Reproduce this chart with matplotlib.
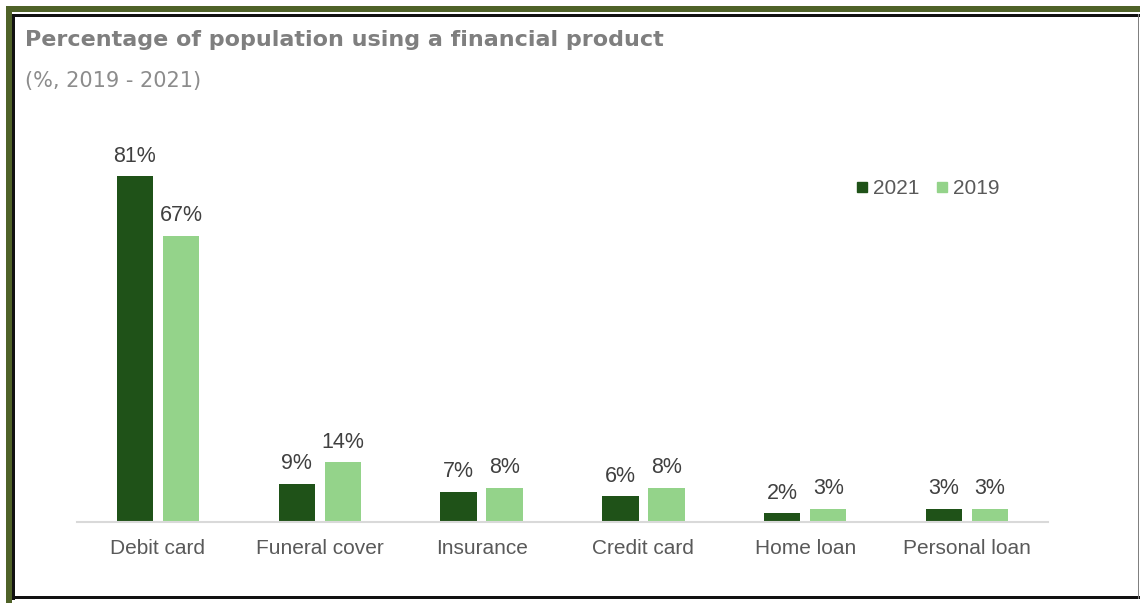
import matplotlib.pyplot as plt
from matplotlib.patches import Rectangle
from matplotlib.lines import Line2D

categories = ["Debit card", "Funeral cover", "Insurance", "Credit card", "Home loan", "Personal loan"]
vals_2021 = [81, 9, 7, 6, 2, 3]
vals_2019 = [67, 14, 8, 8, 3, 3]

dark = "#1f5218"
light = "#94d38a"

W, H = 1140, 603
fig = plt.figure(figsize=(W / 100, H / 100), dpi=100)
fig.patch.set_facecolor("white")

def px(x0, y0, w, h, color):
    # rectangle in pixel coordinates measured from the top-left corner
    fig.add_artist(Rectangle((x0 / W, 1 - (y0 + h) / H), w / W, h / H,
                             transform=fig.transFigure, color=color, lw=0))

# frame round the picture
px(6, 6, W - 6, 6, "#4f6228")
px(6, 6, 6, H - 6, "#4f6228")
px(12, 14, W - 12, 3, "#111111")
px(12, 14, 2.5, 586, "#111111")
px(12, 596, W - 12, 3, "#111111")
px(1137.5, 14, 1.5, 585, "#808080")

ax = fig.add_axes([77 / W, (H - 522) / H, 971 / W, 382 / H])
x = list(range(len(categories)))
off = 0.142
bw = 0.225
b1 = ax.bar([i - off for i in x], vals_2021, bw, color=dark, label="2021")
b2 = ax.bar([i + off for i in x], vals_2019, bw, color=light, label="2019")

for bars, vals in ((b1, vals_2021), (b2, vals_2019)):
    for r, v in zip(bars, vals):
        ax.annotate(f"{v}%", (r.get_x() + r.get_width() / 2, v), xytext=(0, 7),
                    textcoords="offset points", ha="center", va="bottom",
                    fontsize=15.5, color="#404040", family="Liberation Sans")

ax.set_xlim(-0.5, 5.5)
ax.set_ylim(0, 89.5)
ax.set_xticks(x)
ax.set_xticklabels(categories, fontsize=15, color="#595959", family="Liberation Sans")
ax.tick_params(axis="x", length=0, pad=12.5)
ax.set_yticks([])
for s in ["top", "right", "left"]:
    ax.spines[s].set_visible(False)
ax.spines["bottom"].set_color("#d9d9d9")
ax.spines["bottom"].set_linewidth(1.5)

handles = [Line2D([], [], marker="s", ls="", color=dark, markersize=7.5),
           Line2D([], [], marker="s", ls="", color=light, markersize=7.5)]
ax.legend(handles, ["2021", "2019"], loc="center", bbox_to_anchor=(0.876, 0.872),
          ncol=2, frameon=False, handlelength=0.6, handletextpad=0.2, columnspacing=0.8,
          prop={"family": "Liberation Sans", "size": 15}, labelcolor="#595959")

fig.text(25 / W, 1 - 40.5 / H, "Percentage of population using a financial product",
         fontsize=16, fontweight="bold", color="#7f7f7f", family="DejaVu Sans", va="center")
fig.text(25 / W, 1 - 81 / H, "(%, 2019 - 2021)", fontsize=15, color="#8c8c8c",
         family="DejaVu Sans", va="center")

fig.savefig("out.png", dpi=100)
